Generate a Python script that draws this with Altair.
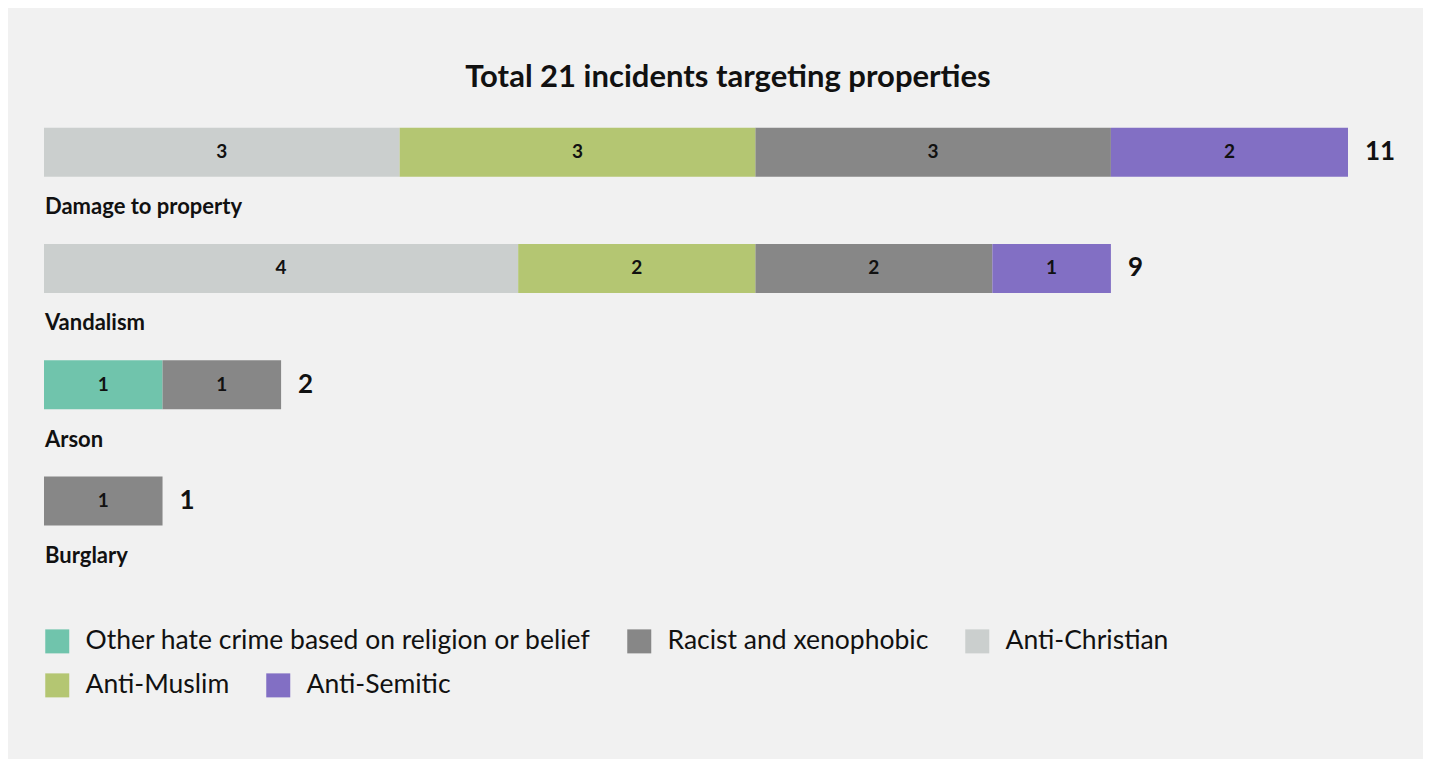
import altair as alt
import pandas as pd

categories = ["Damage to property", "Vandalism", "Arson", "Burglary"]
series_row1 = ["Other hate crime based on religion or belief", "Racist and xenophobic",
               "Anti-Christian"]
colors_row1 = ["#70c4ac", "#878787", "#cbcfce"]
series_row2 = ["Anti-Muslim", "Anti-Semitic"]
colors_row2 = ["#b4c672", "#826fc4"]
stack_order = ["Other hate crime based on religion or belief", "Anti-Christian",
               "Anti-Muslim", "Racist and xenophobic", "Anti-Semitic"]

other = [0, 0, 1, 0]
racist = [3, 2, 1, 1]
christian = [3, 4, 0, 0]
muslim = [3, 2, 0, 0]
semitic = [2, 1, 0, 0]

values = {
    "Other hate crime based on religion or belief": other,
    "Racist and xenophobic": racist,
    "Anti-Christian": christian,
    "Anti-Muslim": muslim,
    "Anti-Semitic": semitic,
}

rows = []
for s, vals in values.items():
    for c, v in zip(categories, vals):
        if v > 0:
            rows.append({"category": c, "series": s, "count": v,
                         "order": stack_order.index(s),
                         "group": 1 if s in series_row1 else 2})
df = pd.DataFrame(rows)
cat_df = pd.DataFrame({"category": categories})

FONT = "Lato"

y_enc = alt.Y("category:N", sort=categories, axis=None,
              scale=alt.Scale(paddingInner=0, paddingOuter=0))
x_scale = alt.Scale(domain=[0, 11], nice=False, zero=True)

base = alt.Chart(df).transform_stack(
    stack="count", groupby=["category"], as_=["x0", "x1"],
    sort=[alt.SortField("order", order="ascending")]
).transform_calculate(mid="(datum.x0 + datum.x1) / 2")


def legend(y):
    return alt.Legend(
        title=None, orient="none", legendX=0, legendY=y,
        direction="horizontal", columnPadding=35,
        symbolType="square", symbolSize=576, symbolStrokeWidth=0,
        labelFont=FONT, labelFontSize=26.5, labelColor="#111111",
        labelOffset=15, labelLimit=0, padding=0)


bars1 = base.transform_filter("datum.group == 1").mark_bar(size=49).encode(
    x=alt.X("x0:Q", scale=x_scale, axis=None),
    x2="x1:Q",
    y=y_enc,
    color=alt.Color("series:N", scale=alt.Scale(domain=series_row1, range=colors_row1),
                    legend=legend(534)),
)
bars2 = base.transform_filter("datum.group == 2").mark_bar(size=49).encode(
    x=alt.X("x0:Q", scale=x_scale, axis=None),
    x2="x1:Q",
    y=y_enc,
    color=alt.Color("series:N", scale=alt.Scale(domain=series_row2, range=colors_row2),
                    legend=legend(578)),
)

seg_text = base.mark_text(font=FONT, fontSize=19, fontWeight="bold", color="#111111",
                          baseline="middle").encode(
    x=alt.X("mid:Q", scale=x_scale),
    y=y_enc,
    text="count:Q",
)

totals = alt.Chart(df).transform_aggregate(
    total="sum(count)", groupby=["category"]
).mark_text(font=FONT, fontSize=26, fontWeight="bold", color="#111111",
            align="left", baseline="middle", dx=17).encode(
    x=alt.X("total:Q", scale=x_scale),
    y=y_enc,
    text="total:Q",
)

row_labels = alt.Chart(cat_df).mark_text(
    font=FONT, fontSize=22, fontWeight="bold", color="#111111",
    align="left", baseline="middle", dy=55, dx=1).encode(
    x=alt.value(0),
    y=y_enc,
    text="category:N",
)

chart = alt.layer(bars1, bars2, seg_text, totals, row_labels).resolve_scale(
    color="independent"
).properties(
    width=1304, height=465,
    autosize=alt.AutoSizeParams(type="none"),
    padding={"left": 36, "top": 86, "right": 75, "bottom": 200},
    background="#f1f1f1",
    title=alt.Title("Total 21 incidents targeting properties", font=FONT, fontSize=31,
                    fontWeight="bold", color="#111111", anchor="middle", dx=32, offset=0),
).configure_view(stroke=None)

chart.save("out.html", embed_options={"renderer": "svg", "actions": False})
